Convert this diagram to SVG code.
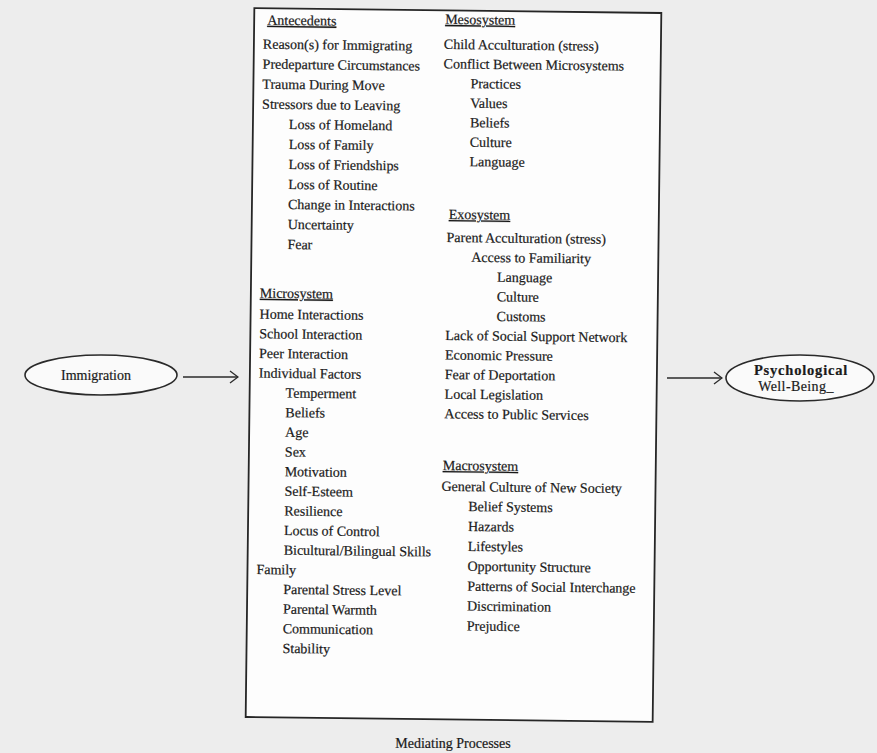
<svg xmlns="http://www.w3.org/2000/svg" width="877" height="753" viewBox="0 0 877 753">
<style>
.t{font-family:"Liberation Serif","Times New Roman",serif;font-size:14px;fill:#1a1a1a;stroke:#1a1a1a;stroke-width:0.2}
.h{text-decoration:underline}
.edge{fill:none;stroke:#2a2a2a;stroke-width:1.3}
.node{fill:#fafafa;stroke:#2a2a2a;stroke-width:1.6}
</style>
<defs>
<marker id="chev" viewBox="0 0 10 14" refX="9" refY="7" markerWidth="10" markerHeight="14" markerUnits="userSpaceOnUse" orient="auto">
<path d="M1,1 L9,7 L1,13" fill="none" stroke="#2a2a2a" stroke-width="1.3"/>
</marker>
</defs>
<rect x="0" y="0" width="877" height="753" fill="#ededed"/>
<g id="mediating" transform="rotate(0.7 453.5 365)">
<rect x="250" y="10.5" width="407" height="709" fill="#fdfdfd" stroke="#262626" stroke-width="1.8"/>
<g class="t">
<text x="263" y="27" class="h">Antecedents</text>
<text x="259" y="51">Reason(s) for Immigrating</text>
<text x="259" y="71">Predeparture Circumstances</text>
<text x="259" y="91">Trauma During Move</text>
<text x="259" y="111">Stressors due to Leaving</text>
<text x="286" y="131">Loss of Homeland</text>
<text x="286" y="151">Loss of Family</text>
<text x="286" y="171">Loss of Friendships</text>
<text x="286" y="191">Loss of Routine</text>
<text x="286" y="211">Change in Interactions</text>
<text x="286" y="231">Uncertainty</text>
<text x="286" y="251">Fear</text>
<text x="259" y="300" class="h">Microsystem</text>
<text x="259" y="321">Home Interactions</text>
<text x="259" y="340.6">School Interaction</text>
<text x="259" y="360.3">Peer Interaction</text>
<text x="259" y="380">Individual Factors</text>
<text x="286" y="399.6">Temperment</text>
<text x="286" y="419.2">Beliefs</text>
<text x="286" y="438.9">Age</text>
<text x="286" y="458.5">Sex</text>
<text x="286" y="478.2">Motivation</text>
<text x="286" y="497.8">Self-Esteem</text>
<text x="286" y="517.5">Resilience</text>
<text x="286" y="537.1">Locus of Control</text>
<text x="286" y="556.7">Bicultural/Bilingual Skills</text>
<text x="259" y="576.4">Family</text>
<text x="286" y="596">Parental Stress Level</text>
<text x="286" y="615.7">Parental Warmth</text>
<text x="286" y="635.3">Communication</text>
<text x="286" y="655">Stability</text>

<text x="441" y="24" class="h">Mesosystem</text>
<text x="440" y="49">Child Acculturation (stress)</text>
<text x="440" y="68.5">Conflict Between Microsystems</text>
<text x="467" y="88">Practices</text>
<text x="467" y="107.5">Values</text>
<text x="467" y="127">Beliefs</text>
<text x="467" y="146.5">Culture</text>
<text x="467" y="166">Language</text>
<text x="447" y="219" class="h">Exosystem</text>
<text x="445" y="242">Parent Acculturation (stress)</text>
<text x="470" y="261.6">Access to Familiarity</text>
<text x="496" y="281.2">Language</text>
<text x="496" y="300.8">Culture</text>
<text x="496" y="320.4">Customs</text>
<text x="445" y="340">Lack of Social Support Network</text>
<text x="445" y="359.6">Economic Pressure</text>
<text x="445" y="379.2">Fear of Deportation</text>
<text x="445" y="398.8">Local Legislation</text>
<text x="445" y="418.4">Access to Public Services</text>
<text x="444" y="470" class="h">Macrosystem</text>
<text x="443" y="491">General Culture of New Society</text>
<text x="470" y="510.9">Belief Systems</text>
<text x="470" y="530.8">Hazards</text>
<text x="470" y="550.7">Lifestyles</text>
<text x="470" y="570.6">Opportunity Structure</text>
<text x="470" y="590.5">Patterns of Social Interchange</text>
<text x="470" y="610.4">Discrimination</text>
<text x="470" y="630.3">Prejudice</text>
</g>
</g>
<text class="t" x="453" y="748" text-anchor="middle">Mediating Processes</text>
<g id="immigration">
<ellipse class="node" cx="101" cy="375" rx="76" ry="20"/>
<text class="t" x="96" y="380" text-anchor="middle">Immigration</text>
</g>
<g id="wellbeing">
<ellipse class="node" cx="800" cy="378" rx="74" ry="23"/>
<text class="t" x="801" y="375" text-anchor="middle" style="font-size:14.5px;font-weight:bold;letter-spacing:0.8px">Psychological</text>
<text class="t" x="796" y="391" text-anchor="middle" style="letter-spacing:0.4px">Well-Being_</text>
</g>
<g id="connectors">
<line class="edge" x1="183" y1="377" x2="238" y2="377" marker-end="url(#chev)"/>
<line class="edge" x1="667" y1="378" x2="722" y2="378" marker-end="url(#chev)"/>
</g>
</svg>
